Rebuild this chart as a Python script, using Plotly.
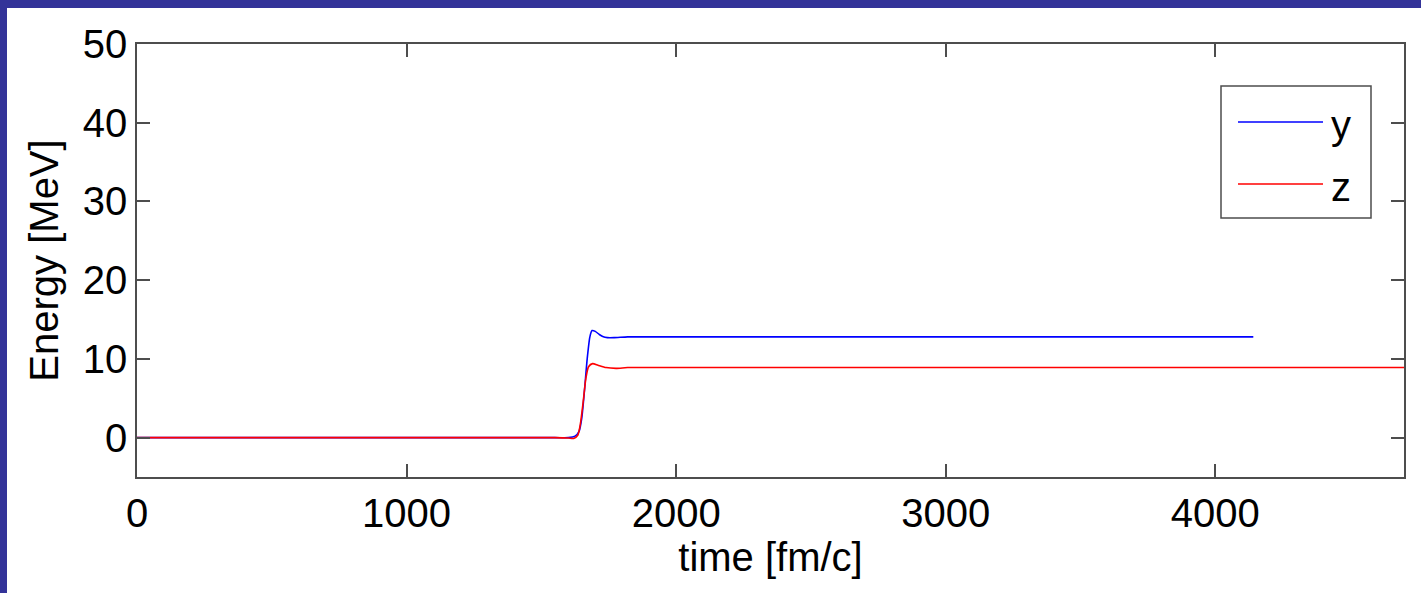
import plotly.graph_objects as go

# time [fm/c] and energies [MeV]
t_y = [0, 1550, 1600, 1625, 1640, 1650, 1660, 1670, 1680, 1688, 1700, 1715, 1730, 1745, 1770, 1820, 1900, 2000, 3000, 4141]
e_y = [0, 0, 0.0, 0.2, 0.8, 2.5, 6.0, 10.0, 12.8, 13.6, 13.5, 13.1, 12.8, 12.7, 12.7, 12.8, 12.8, 12.8, 12.8, 12.8]

t_z = [0, 1550, 1600, 1620, 1635, 1645, 1655, 1665, 1675, 1690, 1710, 1740, 1777, 1820, 1900, 2000, 3000, 4700]
e_z = [0, 0, -0.05, -0.1, 0.3, 1.8, 4.5, 7.5, 9.0, 9.4, 9.2, 8.9, 8.8, 8.9, 8.9, 8.9, 8.9, 8.9]

x_ticks = [0, 1000, 2000, 3000, 4000]
y_ticks = [0, 10, 20, 30, 40, 50]
legend_names = ["y", "z"]
colors = ["#0000ff", "#ff0000"]

FONT = "Liberation Sans, Arial, sans-serif"

fig = go.Figure()
fig.add_trace(go.Scatter(x=t_y, y=e_y, mode="lines", name=legend_names[0],
                         line=dict(color=colors[0], width=1.6, shape="spline", smoothing=0.6)))
fig.add_trace(go.Scatter(x=t_z, y=e_z, mode="lines", name=legend_names[1],
                         line=dict(color=colors[1], width=1.6, shape="spline", smoothing=0.6)))

W, H = 1421, 593
L, R, T, B = 137, 1404, 44, 477
pw, ph = R - L, B - T

def px(x):
    return (x - L) / pw

def py(y):
    return (B - y) / ph

axcol = "#4d4d4d"
fig.update_layout(
    width=W, height=H,
    margin=dict(l=L, r=W - R, t=T, b=H - B),
    paper_bgcolor="white", plot_bgcolor="white",
    showlegend=False,
    font=dict(family=FONT, size=40, color="black"),
    xaxis=dict(range=[0, 4700], tickvals=x_ticks, ticks="inside", ticklen=13, tickwidth=1.5,
               tickcolor=axcol, showline=True, linecolor=axcol, linewidth=1.5, mirror="ticks",
               showgrid=False, zeroline=False, tickfont=dict(size=40),
               title=dict(text="time [fm/c]", font=dict(size=40), standoff=8)),
    yaxis=dict(range=[-5, 50], tickvals=y_ticks, ticks="inside", ticklen=13, tickwidth=1.5,
               tickcolor=axcol, showline=True, linecolor=axcol, linewidth=1.5, mirror="ticks",
               showgrid=False, zeroline=False, tickfont=dict(size=40),
               title=dict(text="Energy [MeV]", font=dict(size=40), standoff=12)),
)

# manual legend (box, sample lines, labels)
fig.add_shape(type="rect", xref="paper", yref="paper",
              x0=px(1221), x1=px(1371), y0=py(218), y1=py(86),
              line=dict(color=axcol, width=1.5), fillcolor="white", layer="above")
for i, (name, c, ly) in enumerate(zip(legend_names, colors, [122, 184])):
    fig.add_shape(type="line", xref="paper", yref="paper",
                  x0=px(1238), x1=px(1323), y0=py(ly), y1=py(ly),
                  line=dict(color=c, width=1.5), layer="above")
    fig.add_annotation(xref="paper", yref="paper", x=px(1329), y=py(ly + 3),
                       text=name, showarrow=False, xanchor="left", yanchor="middle",
                       font=dict(size=40, family=FONT, color="black"))

# blue frame strips (slide border)
blue = "#333399"
fig.add_shape(type="rect", xref="paper", yref="paper",
              x0=px(0), x1=px(W), y0=py(8), y1=py(0),
              line=dict(width=0), fillcolor=blue, layer="above")
fig.add_shape(type="rect", xref="paper", yref="paper",
              x0=px(0), x1=px(7), y0=py(H), y1=py(0),
              line=dict(width=0), fillcolor=blue, layer="above")

fig.write_html("out.html")
